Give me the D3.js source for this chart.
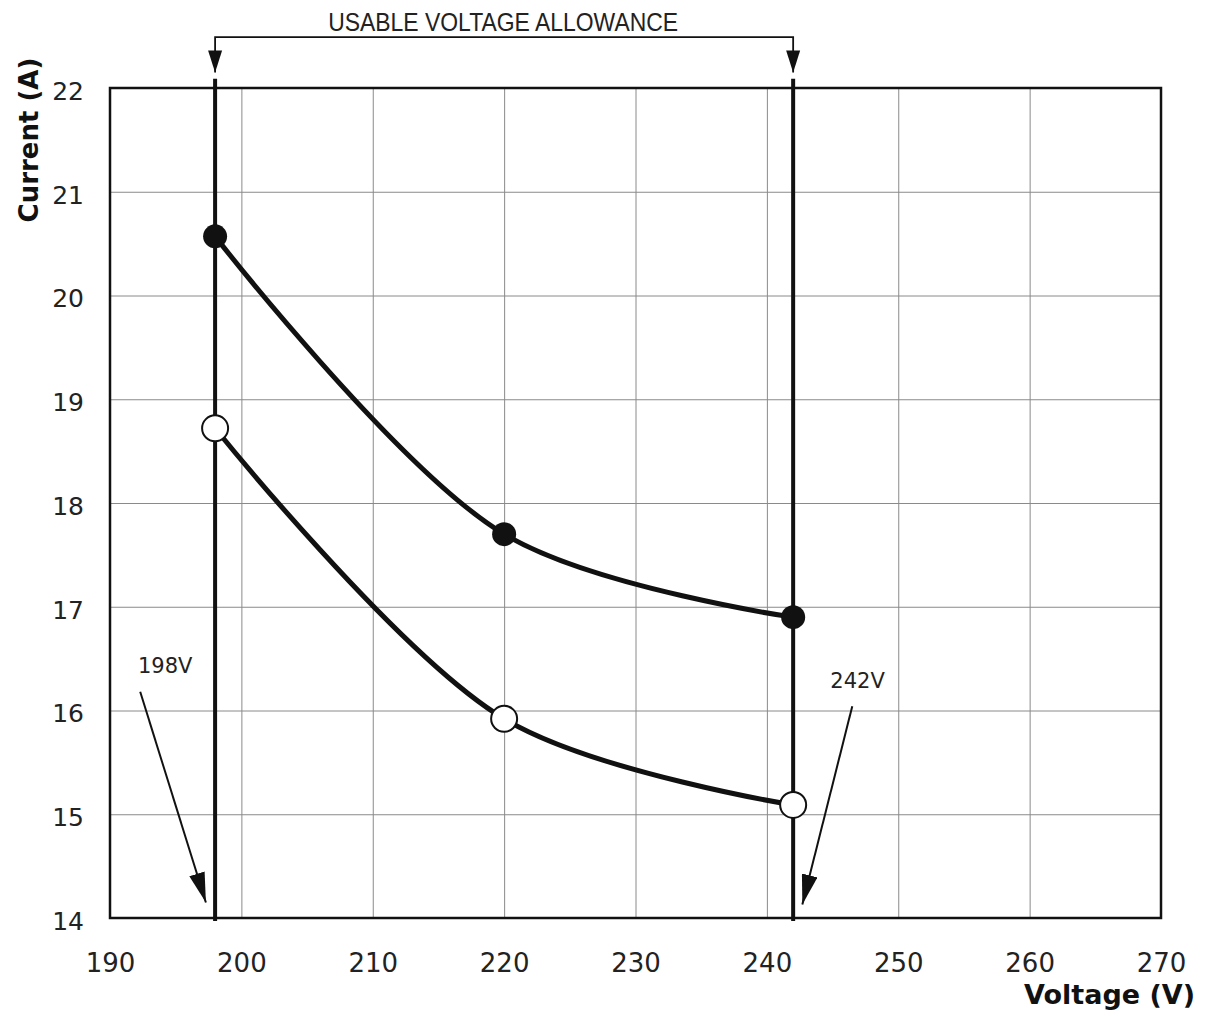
<!DOCTYPE html>
<html><head><meta charset="utf-8">
<script src="https://cdn.jsdelivr.net/npm/d3@7"></script>
<style>
body{margin:0;background:#fff;}
svg{display:block;}
</style></head>
<body>
<svg id="chart" width="1208" height="1016"></svg>
<script>
const voltages = [198, 220, 242];
const currentFilled = [20.57, 17.70, 16.90];
const currentOpen = [18.72, 15.92, 15.09];
const xTicks = [190, 200, 210, 220, 230, 240, 250, 260, 270];
const yTicks = [14, 15, 16, 17, 18, 19, 20, 21, 22];
const limits = [198, 242];
const limitLabels = ["198V", "242V"];
const topLabel = "USABLE VOLTAGE ALLOWANCE";
const xTitle = "Voltage (V)";
const yTitle = "Current (A)";
// annotation anchors in data units
const labelPos = [[194.2, 16.36], [246.9, 16.22]];
const arrowFrom = [[192.3, 16.18], [246.5, 16.04]];
const arrowTo = [[197.3, 14.15], [242.7, 14.13]];
const bracketY = 22.49, bracketTipY = 22.15, bracketTextY = 22.55;
const limitTop = 22.09, limitBottom = 13.97;

const svg = d3.select("#chart");
const m = {l:110, r:1161, t:88, b:918};
const x = d3.scaleLinear().domain([190, 270]).range([m.l, m.r]);
const y = d3.scaleLinear().domain([14, 22]).range([m.b, m.t]);
const font = "'DejaVu Sans', Verdana, sans-serif";

// grid
const g = svg.append("g");
g.append("g").attr("transform", `translate(0,${m.b})`)
  .call(d3.axisBottom(x).tickValues(xTicks).tickSize(-(m.b - m.t)).tickFormat(""))
  .call(s => s.select(".domain").remove())
  .call(s => s.selectAll("line").attr("stroke", "#8a8a8a").attr("stroke-width", 1));
g.append("g").attr("transform", `translate(${m.l},0)`)
  .call(d3.axisLeft(y).tickValues(yTicks).tickSize(-(m.r - m.l)).tickFormat(""))
  .call(s => s.select(".domain").remove())
  .call(s => s.selectAll("line").attr("stroke", "#8a8a8a").attr("stroke-width", 1));

// tick labels
g.append("g").attr("transform", `translate(0,${m.b})`)
  .call(d3.axisBottom(x).tickValues(xTicks).tickSize(0).tickPadding(36).tickFormat(d3.format("d")))
  .call(s => s.select(".domain").remove())
  .call(s => s.selectAll("text").attr("font-family", font).attr("font-size", 26).attr("fill", "#222"));
g.append("g").attr("transform", `translate(${m.l},0)`)
  .call(d3.axisLeft(y).tickValues(yTicks).tickSize(0).tickPadding(26).tickFormat(d3.format("d")))
  .call(s => s.select(".domain").remove())
  .call(s => s.selectAll("text").attr("font-family", font).attr("font-size", 25).attr("fill", "#222").attr("dy", "0.45em"));

// frame
svg.append("rect").attr("x", m.l).attr("y", m.t).attr("width", m.r - m.l).attr("height", m.b - m.t)
  .attr("fill", "none").attr("stroke", "#111").attr("stroke-width", 2.5);

// titles
svg.append("text").attr("x", 1195).attr("y", 1004).attr("text-anchor", "end")
  .attr("font-family", font).attr("font-weight", "bold").attr("font-size", 27).attr("fill", "#111").text(xTitle);
svg.append("text").attr("transform", `translate(38,140) rotate(-90)`).attr("text-anchor", "middle")
  .attr("font-family", font).attr("font-weight", "bold").attr("font-size", 26).attr("fill", "#111").text(yTitle);

// defs arrowhead
const defs = svg.append("defs");
defs.append("marker").attr("id", "ah").attr("viewBox", "0 0 30 16").attr("refX", 30).attr("refY", 8)
  .attr("markerWidth", 30).attr("markerHeight", 16).attr("markerUnits", "userSpaceOnUse").attr("orient", "auto")
  .attr("preserveAspectRatio", "none")
  .append("path").attr("d", "M0,0 L30,8 L0,16 Z").attr("fill", "#111");

// limit lines
svg.selectAll(".limit").data(limits).join("line")
  .attr("x1", d => x(d)).attr("x2", d => x(d)).attr("y1", y(limitTop)).attr("y2", y(limitBottom))
  .attr("stroke", "#111").attr("stroke-width", 4);

// bracket
svg.append("path")
  .attr("d", `M${x(limits[0])},${y(bracketTipY)} L${x(limits[0])},${y(bracketY)} L${x(limits[1])},${y(bracketY)} L${x(limits[1])},${y(bracketTipY)}`)
  .attr("fill", "none").attr("stroke", "#111").attr("stroke-width", 1.8);
svg.selectAll(".btip").data(limits).join("path")
  .attr("d", d => `M${x(d)-7},${y(bracketTipY)-22} L${x(d)+7},${y(bracketTipY)-22} L${x(d)},${y(bracketTipY)} Z`)
  .attr("fill", "#111");
svg.append("text").attr("x", (x(limits[0]) + x(limits[1])) / 2 - 1).attr("y", y(bracketTextY))
  .attr("text-anchor", "middle").attr("font-family", "'Liberation Sans', Arial, sans-serif")
  .attr("font-size", 25).attr("textLength", 350).attr("lengthAdjust", "spacingAndGlyphs")
  .attr("fill", "#222").text(topLabel);

// annotation arrows
limitLabels.forEach((lab, i) => {
  svg.append("text").attr("x", x(labelPos[i][0])).attr("y", y(labelPos[i][1]))
    .attr("text-anchor", "middle").attr("font-family", font).attr("font-size", 21).attr("fill", "#222").text(lab);
  svg.append("line").attr("x1", x(arrowFrom[i][0])).attr("y1", y(arrowFrom[i][1]))
    .attr("x2", x(arrowTo[i][0])).attr("y2", y(arrowTo[i][1]))
    .attr("stroke", "#111").attr("stroke-width", 2).attr("marker-end", "url(#ah)");
});

// curves
const line = d3.line().x(d => x(d[0])).y(d => y(d[1])).curve(d3.curveCatmullRom.alpha(0.5));
const filled = voltages.map((v, i) => [v, currentFilled[i]]);
const open = voltages.map((v, i) => [v, currentOpen[i]]);
[filled, open].forEach(s => {
  svg.append("path").attr("d", line(s)).attr("fill", "none").attr("stroke", "#111").attr("stroke-width", 5);
});
svg.selectAll(".pf").data(filled).join("circle")
  .attr("cx", d => x(d[0])).attr("cy", d => y(d[1])).attr("r", 12).attr("fill", "#111");
svg.selectAll(".po").data(open).join("circle")
  .attr("cx", d => x(d[0])).attr("cy", d => y(d[1])).attr("r", 13).attr("fill", "#fff")
  .attr("stroke", "#111").attr("stroke-width", 2);
</script>
</body></html>
